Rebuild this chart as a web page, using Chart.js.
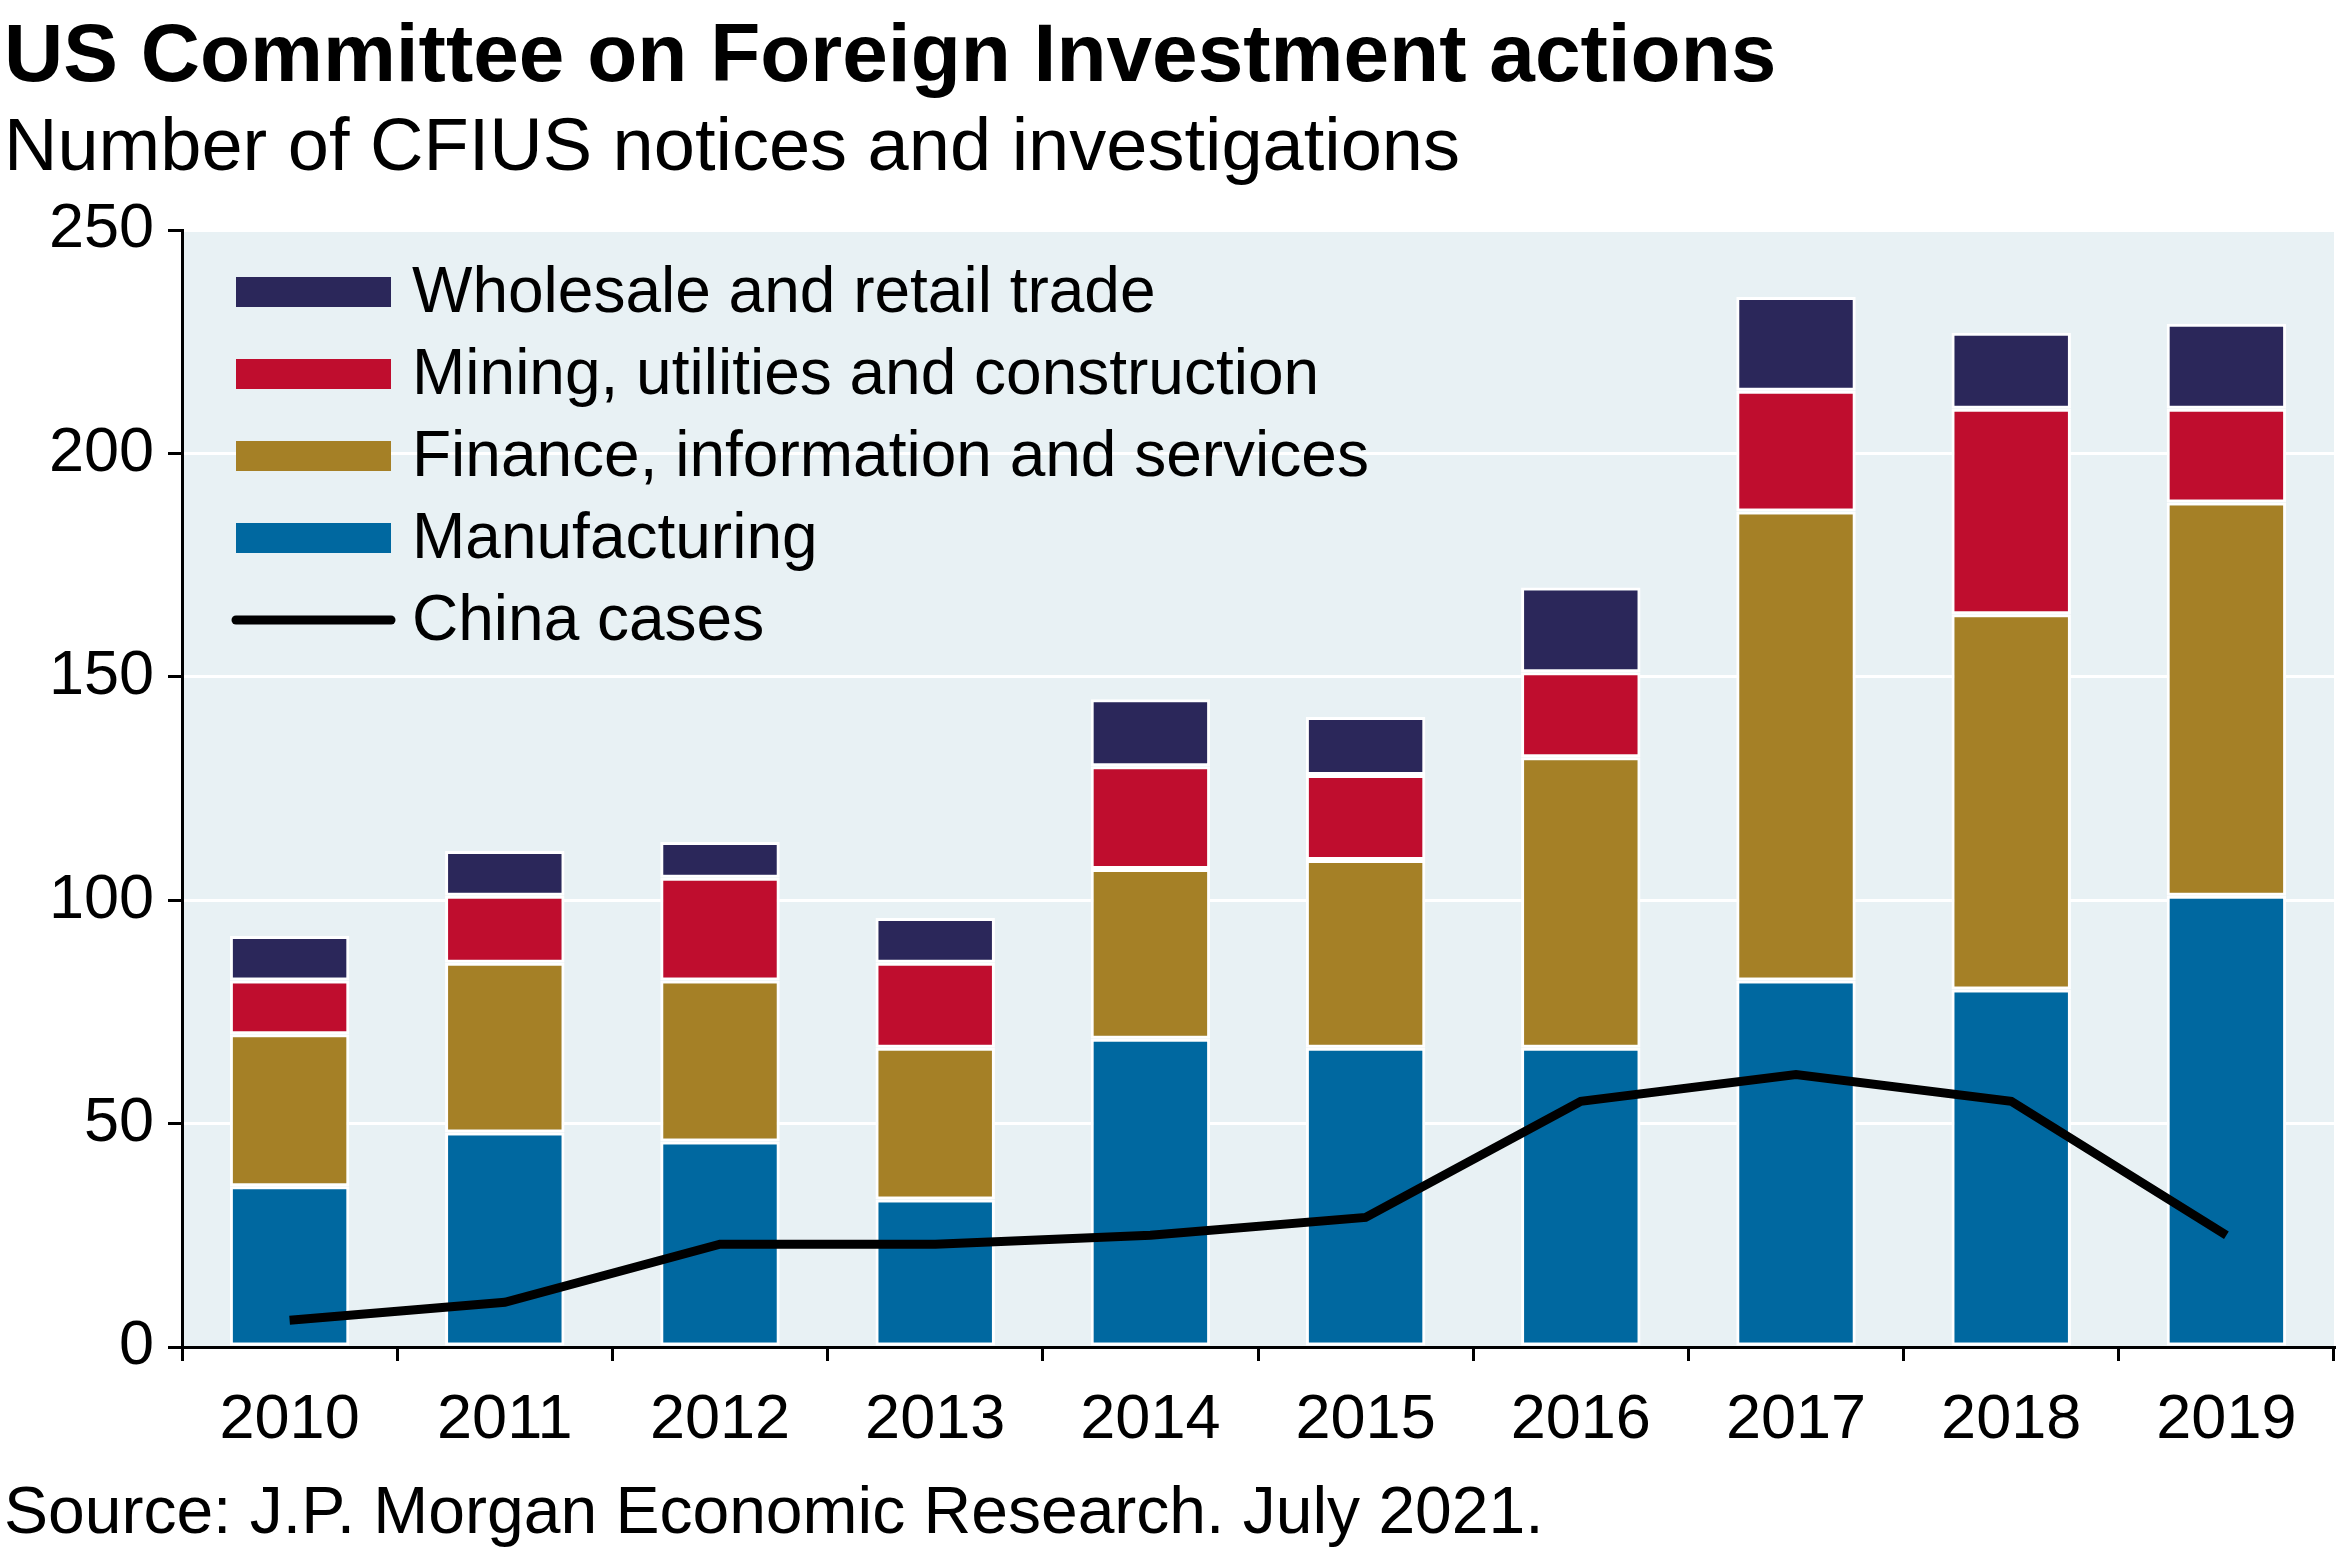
<!DOCTYPE html>
<html>
<head>
<script src="https://cdn.jsdelivr.net/npm/chart.js"></script>
<style>
  body { margin: 0; background: #fff; font-family: "Liberation Sans", Arial, sans-serif; }
  #wrap { position: relative; width: 2341px; height: 1561px; }
  canvas { position: absolute; left: 0; top: 0; }
  .t { position: absolute; left: 4px; white-space: nowrap; color: #000; }
</style>
</head>
<body>
<div id="wrap">
  <canvas id="c" width="2341" height="1561"></canvas>
  <div class="t" style="top:6px;font-size:82px;font-weight:bold;">US Committee on Foreign Investment actions</div>
  <div class="t" style="top:102px;font-size:74px;">Number of CFIUS notices and investigations</div>
  <div class="t" style="top:1472px;font-size:66px;">Source: J.P. Morgan Economic Research. July 2021.</div>
</div>
<script>
const years = ['2010','2011','2012','2013','2014','2015','2016','2017','2018','2019'];
const manufacturing = [36, 48, 46, 33, 69, 67, 67, 82, 80, 101];
const finance = [34, 38, 36, 34, 38, 42, 65, 105, 84, 88];
const mining = [12, 15, 23, 19, 23, 19, 19, 27, 46, 21];
const wholesale = [10, 10, 8, 10, 15, 13, 19, 21, 17, 19];
const china = [6, 10, 23, 23, 25, 29, 55, 61, 55, 25];

function bar(label, data, color) {
  return { type: 'bar', label, data, backgroundColor: color, borderColor: '#fff',
           borderWidth: 3, borderSkipped: false, stack: 'bars', order: 1,
           barPercentage: 0.555, categoryPercentage: 1 };
}

// plot background + legend drawn inside plot area
const extras = {
  id: 'extras',
  beforeDraw(chart) {
    const a = chart.chartArea, ctx = chart.ctx;
    ctx.save();
    ctx.fillStyle = '#e8f1f4';
    ctx.fillRect(a.left, a.top, a.right - a.left, a.bottom - a.top);
    ctx.restore();
  },
  afterDraw(chart) {
    const ctx = chart.ctx;
    const order = [3, 2, 1, 0, 4];
    ctx.save();
    ctx.font = '64px "Liberation Sans", Arial, sans-serif';
    ctx.textBaseline = 'middle';
    order.forEach((i, r) => {
      const ds = chart.data.datasets[i];
      const y = 292 + r * 82;
      if (ds.type === 'line') {
        ctx.strokeStyle = '#000'; ctx.lineWidth = 9; ctx.lineCap = 'round';
        ctx.beginPath(); ctx.moveTo(236, y); ctx.lineTo(391, y); ctx.stroke();
      } else {
        ctx.fillStyle = ds.backgroundColor;
        ctx.fillRect(236, y - 15, 155, 30);
      }
      ctx.fillStyle = '#000';
      ctx.fillText(ds.label, 412, y + 2);
    });
    ctx.restore();
  }
};

new Chart(document.getElementById('c'), {
  data: {
    labels: years,
    datasets: [
      bar('Manufacturing', manufacturing, '#0068a0'),
      bar('Finance, information and services', finance, '#a58026'),
      bar('Mining, utilities and construction', mining, '#bf0d2e'),
      bar('Wholesale and retail trade', wholesale, '#2b275a'),
      { type: 'line', label: 'China cases', data: china, borderColor: '#000',
        borderWidth: 9, pointRadius: 0, tension: 0, stack: 'line', order: 0 }
    ]
  },
  options: {
    responsive: false,
    animation: false,
    layout: { padding: { top: 230, right: 7, left: 0, bottom: 0 } },
    plugins: { legend: { display: false }, tooltip: { enabled: false } },
    scales: {
      x: {
        stacked: true,
        grid: { display: true, offset: true, drawOnChartArea: false, color: '#000',
                tickLength: 14, lineWidth: 3 },
        border: { color: '#000', width: 3 },
        ticks: { color: '#000', font: { size: 63, family: '"Liberation Sans", Arial' }, padding: 22 },
        afterFit(s) { s.height = 214; }
      },
      y: {
        stacked: true, min: 0, max: 250,
        grid: { color: '#fff', lineWidth: 3, tickColor: '#000', tickLength: 14 },
        border: { color: '#000', width: 3 },
        ticks: { stepSize: 50, color: '#000', font: { size: 63, family: '"Liberation Sans", Arial' }, padding: 14 },
        afterFit(s) { s.width = 182; }
      }
    }
  },
  plugins: [extras]
});
</script>
</body>
</html>
